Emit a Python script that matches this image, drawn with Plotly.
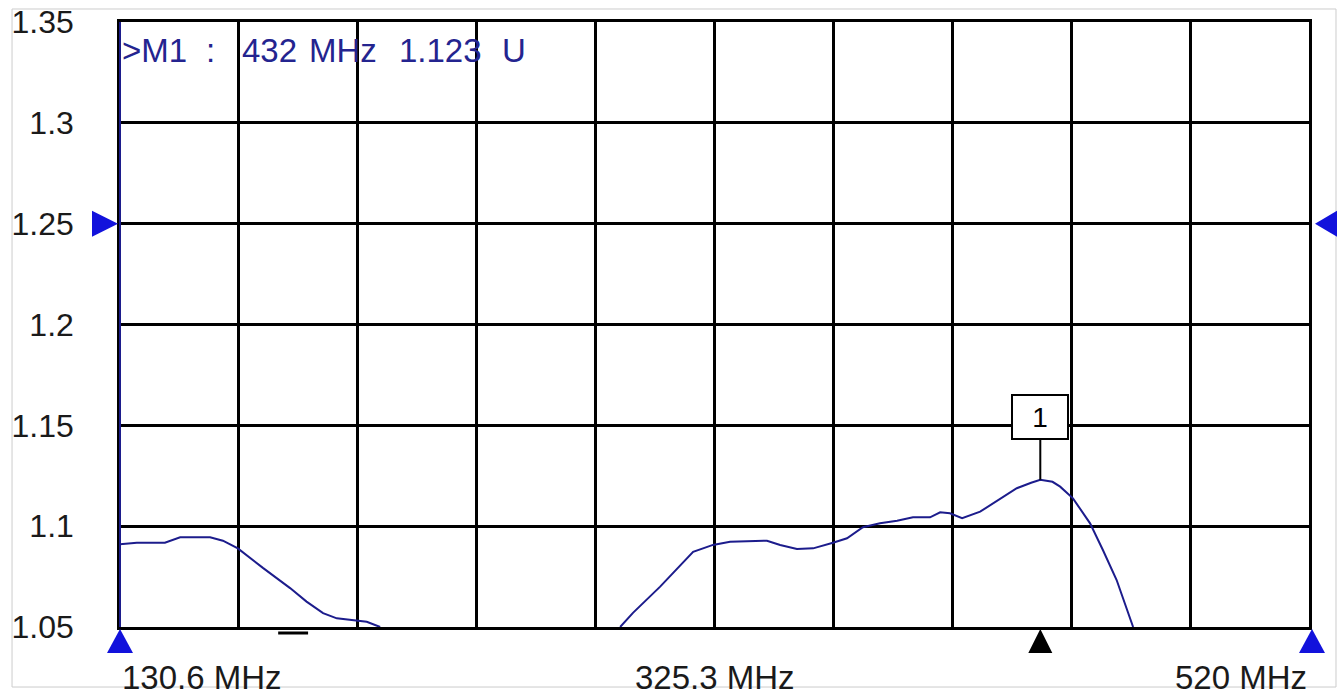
import plotly.graph_objects as go

# ---- data (frequency in MHz, value in U) ----
left_freq = [130.6, 136.1, 145.3, 150.3, 160.1, 164.3, 169.2, 177.4, 186.3, 191.7, 197.1, 201.6, 211.4, 215.8]
left_val = [1.091, 1.0918, 1.0918, 1.0945, 1.0945, 1.0928, 1.089, 1.0793, 1.0693, 1.0626, 1.0569, 1.0543, 1.0526, 1.050]

right_freq = [294.4, 298.6, 307.5, 310.7, 318.3, 324.8, 330.4, 342.5, 346.8, 352.3, 357.6, 364.1, 368.7,
              373.9, 379.5, 385.1, 390.3, 395.9, 399.2, 402.4, 406.4, 412.3, 418.8, 424.3, 429.0, 432.0,
              436.0, 438.5, 442.7, 448.3, 452.5, 457.0, 462.4]
right_val = [1.050, 1.057, 1.070, 1.075, 1.0873, 1.0907, 1.0923, 1.0928, 1.0907, 1.0887, 1.089, 1.0918, 1.094,
             1.0995, 1.1014, 1.1027, 1.1044, 1.1044, 1.1069, 1.1064, 1.104, 1.1072, 1.1133, 1.1188, 1.1215, 1.123,
             1.122, 1.1196, 1.1138, 1.1014, 1.0882, 1.0733, 1.050]

x_start, x_stop = 130.6, 520.0
x_divisions = 10
y_tickvals = [1.05, 1.1, 1.15, 1.2, 1.25, 1.3, 1.35]
y_ticktext = ["1.05", "1.1", "1.15", "1.2", "1.25", "1.3", "1.35"]
x_label_vals = [130.6, 325.3, 520.0]
x_label_text = ["130.6 MHz", "325.3 MHz", "520 MHz"]
marker_freq, marker_val = 432.0, 1.123
ref_level = 1.25
readout_tokens = [">M1", ":", "432", "MHz", "1.123", "U"]
readout_offsets = [0, 84, 120, 187, 277, 380]   # pixel offsets from plot left edge

TRACE = "#1c1c8c"
BLUE = "#1212dc"
FONT = "Liberation Sans"

fig = go.Figure()
fig.add_trace(go.Scatter(x=left_freq, y=left_val, mode="lines",
                         line=dict(color=TRACE, width=2), showlegend=False))
fig.add_trace(go.Scatter(x=right_freq, y=right_val, mode="lines",
                         line=dict(color=TRACE, width=2), showlegend=False))

step = (x_stop - x_start) / x_divisions
x_grid = [x_start + i * step for i in range(x_divisions + 1)]

fig.update_xaxes(range=[x_start, x_stop], tickvals=x_grid, showticklabels=False, automargin=False,
                 showgrid=True, gridcolor="black", gridwidth=2.5, zeroline=False,
                 showline=True, linecolor="black", linewidth=2.5, mirror=True, ticks="")
fig.update_yaxes(range=[1.05, 1.35], tickvals=y_tickvals, ticktext=y_ticktext, automargin=False,
                 showgrid=True, gridcolor="black", gridwidth=2.5, zeroline=False,
                 showline=True, linecolor="black", linewidth=2.5, mirror=True,
                 ticks="outside", ticklen=37, tickcolor="rgba(0,0,0,0)",
                 tickfont=dict(family=FONT, size=32, color="#1a1a1a"))

shapes = []
# blue left edge line
shapes.append(dict(type="line", xref="paper", yref="paper", x0=0, x1=0, y0=0, y1=1,
                   line=dict(color=TRACE, width=2)))
# reference level triangles
shapes.append(dict(type="path", xref="paper", yref="y", xsizemode="pixel", ysizemode="pixel",
                   xanchor=0, yanchor=ref_level, path="M -28,-13 L -28,13 L -2,0 Z",
                   fillcolor=BLUE, line=dict(width=0)))
shapes.append(dict(type="path", xref="paper", yref="y", xsizemode="pixel", ysizemode="pixel",
                   xanchor=1, yanchor=ref_level, path="M 28,-13 L 28,13 L 6,0 Z",
                   fillcolor=BLUE, line=dict(width=0)))
# start / stop triangles (paper-anchored so they are not clipped)
shapes.append(dict(type="path", xref="paper", yref="paper", xsizemode="pixel", ysizemode="pixel",
                   xanchor=0, yanchor=0, path="M -13,-26 L 13,-26 L 0,-2 Z",
                   fillcolor=BLUE, line=dict(width=0)))
shapes.append(dict(type="path", xref="paper", yref="paper", xsizemode="pixel", ysizemode="pixel",
                   xanchor=1, yanchor=0, path="M -10,-26 L 16,-26 L 3,-2 Z",
                   fillcolor=BLUE, line=dict(width=0)))
# marker triangle
shapes.append(dict(type="path", xref="x", yref="paper", xsizemode="pixel", ysizemode="pixel",
                   xanchor=marker_freq, yanchor=0, path="M -12,-26 L 12,-26 L 0,-2 Z",
                   fillcolor="black", line=dict(width=0)))
# small bar below axis
shapes.append(dict(type="line", xref="x", yref="paper", ysizemode="pixel", yanchor=0,
                   x0=182.4, x1=192.2, y0=-6, y1=-6, line=dict(color="black", width=3)))
# outer light border
shapes.append(dict(type="rect", xref="paper", yref="paper", x0=-0.0908, x1=1.0227,
                   y0=-0.0992, y1=1.0215, line=dict(color="#cccccc", width=1), layer="below"))

annotations = []
for v, t in zip(x_label_vals, x_label_text):
    anchor = "left" if v == x_start else ("right" if v == x_stop else "center")
    annotations.append(dict(x=v, xref="x", y=0, yref="paper", yshift=-50, text=t,
                            showarrow=False, xanchor=anchor, yanchor="middle",
                            font=dict(family=FONT, size=33, color="#1a1a1a")))
for tok, off in zip(readout_tokens, readout_offsets):
    annotations.append(dict(x=0, xref="paper", y=1, yref="paper", yshift=-28, xshift=off,
                            text=tok, showarrow=False, xanchor="left", yanchor="middle",
                            font=dict(family=FONT, size=33, color="#24248f")))
annotations.append(dict(x=marker_freq, y=marker_val, xref="x", yref="y", text="1",
                        showarrow=True, arrowhead=0, arrowwidth=2, arrowcolor="black",
                        ax=0, ay=-63, width=52, height=40, bordercolor="black", borderwidth=2,
                        bgcolor="white", font=dict(family=FONT, size=28, color="black")))

fig.update_layout(width=1341, height=692, margin=dict(l=120, r=32, t=22, b=65, autoexpand=False),
                  paper_bgcolor="white", plot_bgcolor="white",
                  shapes=shapes, annotations=annotations, showlegend=False)

fig.write_html("out.html", config={"displayModeBar": False},
               post_script="document.body.style.margin='0';document.body.style.overflow='hidden';")
